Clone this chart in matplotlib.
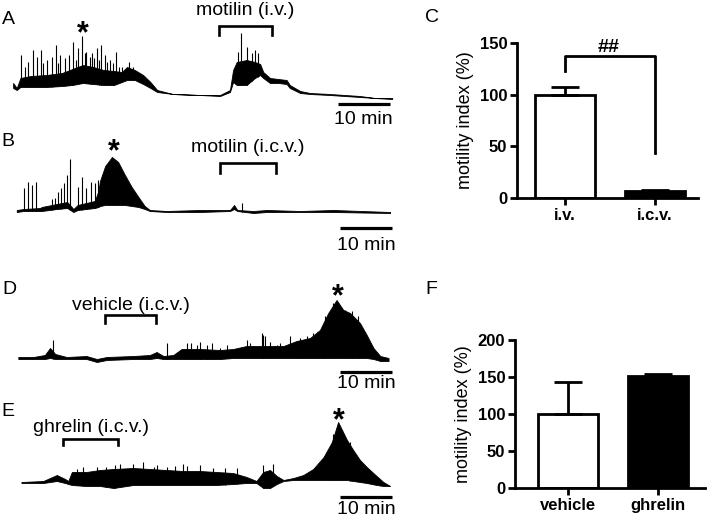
import numpy as np
import matplotlib
matplotlib.use("Agg")
import matplotlib.pyplot as plt

plt.rcParams["font.family"] = ["Liberation Sans", "DejaVu Sans"]

W, H = 708, 519

# ---- recording traces, read off the picture as envelopes ----
# time in min, amplitude in a.u.; dense contractions drawn as a filled band
A_t = [0.6, 1.3, 2.0, 4.0, 7.0, 10.0, 12.0, 14.0, 16.0, 18.0, 20.0, 21.5, 22.5, 24.0, 25.6,
       27.0, 28.3, 31.3, 36.5, 40.4, 42.3, 42.9, 43.6, 45.5, 47.1, 48.1, 48.7, 50.0, 51.6,
       53.2, 53.8, 55.8, 57.7, 61.5, 67.3, 70.2, 73.5]
A_hi = [17, 12, 22, 24, 25, 27, 31, 35, 33, 30, 29, 28, 33, 30, 25, 18, 10, 6, 5, 5, 10, 30,
        38, 40, 38, 36, 28, 22, 21, 20, 15, 9, 7, 6, 4, 2, 2]
A_lo = [12, 10, 13, 13, 13, 14, 15, 17, 16, 15, 15, 18, 20, 20, 16, 12, 8, 6, 5, 4, 8, 18,
        15, 15, 22, 25, 22, 17, 17, 16, 12, 7, 6, 5, 3, 2, 1]
A_spk_t = [2.1, 2.9, 3.5, 4.4, 5.1, 5.9, 6.4, 7.2, 8.0, 8.8, 9.3, 9.7, 10.6, 11.4, 12.2,
           12.7, 13.1, 13.9, 14.4, 14.7, 15.3, 15.7, 16.2, 16.7, 17.2, 17.5, 18.3, 18.7,
           19.2, 19.9, 20.4, 21.0, 21.5, 22.8, 23.7, 43.9, 44.4, 45.5, 46.5, 47.1, 47.6]
A_spk_a = [45, 33, 38, 50, 43, 50, 37, 40, 43, 55, 37, 45, 42, 45, 58, 40, 52, 64, 47, 48,
           43, 47, 42, 52, 40, 55, 45, 38, 40, 37, 48, 33, 33, 38, 33, 48, 67, 53, 47, 50, 47]

B_t = [1.3, 2.6, 5.8, 6.1, 9.0, 11.0, 12.2, 13.0, 16.3, 17.0, 17.3, 18.3, 19.6, 20.8, 22.1,
       23.4, 24.7, 25.9, 26.9, 30.1, 36.5, 42.3, 43.1, 43.7, 46.8, 49.4, 55.8, 62.2, 73.1]
B_hi = [1, 2, 3, 4, 7, 9, 2, 6, 10, 20, 30, 45, 54, 49, 36, 24, 14, 5, 1, 0, 1, 1, 6, 1, 0,
        1, 0, 1, -1]
B_lo = [-1, 0, 0, 0, 2, 3, -1, 1, 3, 4, 5, 6, 6, 6, 6, 5, 4, 2, 0, -1, -1, 0, 2, 0, -2, -1,
        -1, -1, -2]
B_spk_t = [2.6, 3.4, 4.2, 5.0, 8.0, 8.7, 9.3, 9.9, 10.4, 10.9, 11.5, 13.1, 13.8, 14.7, 15.6,
           16.3, 17.0, 44.7]
B_spk_a = [23, 29, 26, 29, 12, 13, 19, 23, 28, 36, 52, 24, 34, 23, 29, 28, 31, 8]

D_t = [1.6, 4.5, 6.7, 7.7, 8.7, 10.9, 14.7, 16.7, 18.6, 23.7, 26.9, 28.2, 29.5, 31.4, 33.0,
       36.5, 40.4, 42.9, 45.5, 49.4, 52.6, 55.1, 57.7, 59.6, 61.2, 62.8, 64.1, 65.4, 67.3,
       68.6, 69.9, 71.2, 72.8]
D_hi = [1, 1, 3, 10, 4, 1, 2, -1, 1, 2, 3, 6, 2, 3, 9, 9, 8, 9, 12, 12, 12, 17, 20, 28, 45,
        58, 48, 45, 35, 23, 10, 2, 0]
D_lo = [-1, -1, -1, 0, -1, -1, -1, -4, -2, -1, -1, 0, -1, -1, -1, -1, -1, 0, 0, 0, 0, 0, 0,
        0, 0, 0, 0, 0, 0, 0, -1, -3, -3]
D_spk_t = [8.3, 30.1, 34.0, 34.9, 35.9, 36.5, 37.8, 38.8, 40.4, 41.7, 45.5, 46.2, 48.4, 48.7,
           49.0, 50.0, 51.3, 51.9, 53.8, 55.1, 55.8, 56.4, 57.1, 57.7, 58.3, 59.0, 60.3, 60.6,
           62.2, 64.4, 65.7, 67.0]
D_spk_a = [18, 15, 15, 15, 13, 16, 13, 15, 10, 13, 18, 15, 25, 23, 22, 16, 13, 15, 22, 16,
           20, 15, 22, 20, 25, 26, 30, 42, 55, 48, 47, 42]

E_t = [2.2, 6.4, 7.7, 9.0, 10.6, 11.2, 11.9, 14.7, 17.3, 19.9, 23.7, 26.9, 30.1, 33.3, 36.5,
       39.7, 42.9, 45.5, 47.4, 48.7, 50.0, 51.3, 52.6, 54.5, 56.4, 58.3, 60.3, 61.9, 63.1,
       64.8, 66.0, 67.3, 68.6, 70.5, 71.8, 73.1]
E_hi = [0, 1, 4, 7, 3, 1, 10, 10, 12, 13, 14, 13, 12, 11, 11, 10, 9, 5, 1, 10, 12, 6, 2, 4,
        7, 13, 25, 40, 60, 42, 32, 22, 15, 6, 0, -4]
E_lo = [-1, -1, 0, 1, -1, -2, -3, -4, -4, -6, -3, -3, -3, -3, -3, -3, -2, -1, -1, -6, -6, -2,
        1, 2, 2, 2, 2, 2, 2, 2, 1, 0, -1, -3, -4, -4]
E_spk_t = [12.8, 14.1, 16.7, 18.5, 20.2, 21.2, 23.7, 25.6, 27.6, 28.2, 30.1, 31.7, 33.3, 34.0,
           36.5, 39.1, 41.3, 43.6, 48.7, 50.6, 62.2, 64.1, 65.4]
E_spk_a = [13, 15, 15, 15, 17, 18, 18, 20, 15, 17, 15, 16, 18, 16, 17, 14, 14, 14, 17, 18,
           48, 47, 40]

# infusion windows (min), phase III marker (min)
A_inj, A_inj_label, A_star = (40.2, 50.4), "motilin (i.v.)", 14.0
B_inj, B_inj_label, B_star = (40.4, 51.2), "motilin (i.c.v.)", 19.9
D_inj, D_inj_label, D_star = (18.3, 28.1), "vehicle (i.c.v.)", 63.1
E_inj, E_inj_label, E_star = (10.2, 20.8), "ghrelin (i.c.v.)", 63.3
SCALE_MIN = 10

# ---- bar charts ----
C_groups = ["i.v.", "i.c.v."]
C_mean = [100, 7]
C_sem = [7, 1]
F_groups = ["vehicle", "ghrelin"]
F_mean = [100, 151]
F_sem = [43, 3]

fig = plt.figure(figsize=(W / 100, H / 100), dpi=100)


def px_axes(x0, y0, x1, y1):
    return fig.add_axes([x0 / W, 1 - y1 / H, (x1 - x0) / W, (y1 - y0) / H])


def draw_trace(ybox, ylim, t, hi, lo, spk_t, spk_a, inj, inj_label, star_t,
               text_a, br_top, br_leg, star_a, bar_a, bar_txt_a, bar_end):
    ax = px_axes(10, ybox[0], 10 + 74 * 5.2, ybox[1])
    ax.set_xlim(0, 74)
    ax.set_ylim(*ylim)
    ax.axis("off")
    ax.fill_between(t, lo, hi, color="black", linewidth=0.6)
    base = np.interp(spk_t, t, lo)
    ax.vlines(spk_t, base, spk_a, color="black", linewidth=0.8)
    # infusion bracket
    ax.plot([inj[0], inj[0], inj[1], inj[1]], [br_leg, br_top, br_top, br_leg],
            color="black", lw=1.9, solid_joinstyle="miter", clip_on=False)
    ax.text((inj[0] + inj[1]) / 2, text_a, inj_label, ha="center", va="center", fontsize=14)
    ax.text(star_t, star_a, "*", ha="center", va="center", fontsize=22, fontweight="bold")
    # scale bar
    ax.plot([bar_end - SCALE_MIN, bar_end], [bar_a, bar_a], color="black", lw=2.3,
            solid_capstyle="butt", clip_on=False)
    ax.text(bar_end - SCALE_MIN / 2, bar_txt_a, f"{SCALE_MIN} min", ha="center",
            va="center", fontsize=14)
    return ax


draw_trace((0, 128), (-28, 100), A_t, A_hi, A_lo, A_spk_t, A_spk_a, A_inj, A_inj_label,
           A_star, 89.5, 74, 65, 66, -4, -19, 73.0)
draw_trace((128, 256), (-45, 83), B_t, B_hi, B_lo, B_spk_t, B_spk_a, B_inj, B_inj_label,
           B_star, 63, 48, 38, 59, -17, -35, 73.5)
draw_trace((258, 390), (-32, 100), D_t, D_hi, D_lo, D_spk_t, D_spk_a, D_inj, D_inj_label,
           D_star, 53, 43, 35, 61, -14, -26, 73.5)
draw_trace((388, 519), (-37, 94), E_t, E_hi, E_lo, E_spk_t, E_spk_a, E_inj, E_inj_label,
           E_star, 54, 43, 37, 61, -15, -28, 73.5)

for lab, (x, y) in zip("ABDECF", [(2, 20), (1, 141), (2, 290), (1, 411), (425, 18), (425, 290)]):
    fig.text(x / W, 1 - y / H, lab, fontsize=14, ha="left", va="center")


def bar_panel(ax, groups, mean, sem, ymax, step, xlim):
    x = np.arange(len(groups))
    ax.bar(x, mean, width=0.67, color=["white", "black"], edgecolor="black", linewidth=2,
           zorder=2)
    ax.errorbar(x, mean, yerr=[[0] * len(sem), sem], fmt="none", ecolor="black",
                elinewidth=2, capsize=10, capthick=2, zorder=3)
    ax.set_xlim(*xlim)
    ax.set_ylim(0, ymax)
    ax.set_yticks(np.arange(0, ymax + 1, step))
    ax.set_xticks(x)
    ax.set_xticklabels(groups)
    for s in ("top", "right"):
        ax.spines[s].set_visible(False)
    for s in ("left", "bottom"):
        ax.spines[s].set_linewidth(2)
    ax.tick_params(direction="out", length=5, width=2, labelsize=12, pad=2)
    for tl in ax.get_xticklabels() + ax.get_yticklabels():
        tl.set_fontweight("bold")
    ax.set_ylabel("motility index (%)", fontsize=13, labelpad=4)


axC = px_axes(517, 43, 698, 198)
bar_panel(axC, C_groups, C_mean, C_sem, 150, 50, (-0.53, 1.48))
axC.plot([0, 0, 1, 1], [123, 137, 137, 44], color="black", lw=2, clip_on=False)
axC.text(0.49, 137, "##", ha="center", va="bottom", fontsize=14, fontweight="bold")

axF = px_axes(515, 340, 705, 488)
bar_panel(axF, F_groups, F_mean, F_sem, 200, 50, (-0.59, 1.52))

fig.savefig("out.png", dpi=100)
